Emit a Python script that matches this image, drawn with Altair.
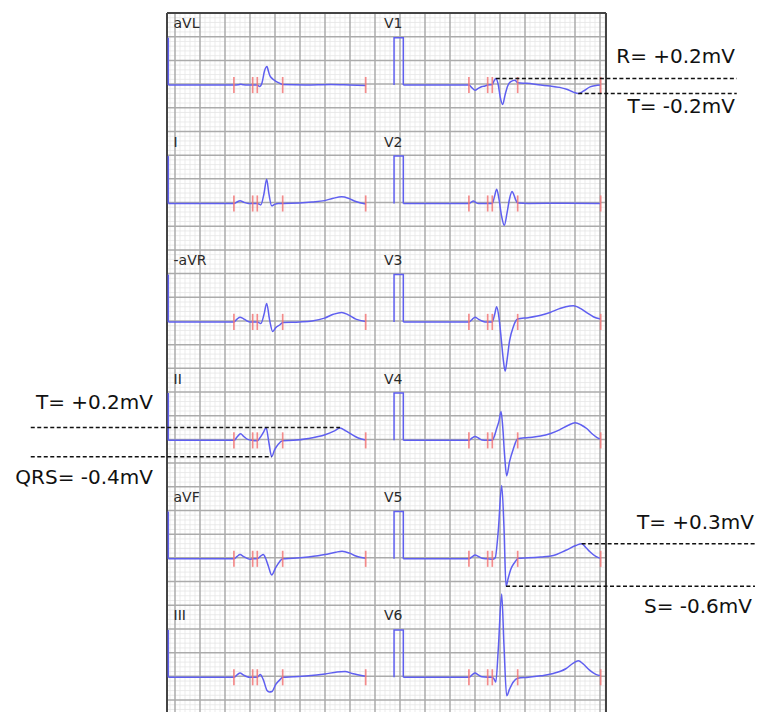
import altair as alt
import pandas as pd

# ---------------- data ----------------
leads_left = ["aVL", "I", "-aVR", "II", "aVF", "III"]
leads_right = ["V1", "V2", "V3", "V4", "V5", "V6"]

# marker positions (ms after the calibration pulse): P on, P off, QRS on, QRS off, T off
marker_ms = [525, 675, 712, 915, 1579]

# waveforms: time (ms after calibration pulse) and amplitude (mV)
aVL_t = [0, 525, 560, 580, 600, 640, 675, 712, 730, 750, 770, 790, 800, 812, 830, 855, 890, 915, 1100, 1300, 1450, 1579]
aVL_v = [0, 0, 0.005, 0.015, 0.005, 0, 0, 0, -0.03, 0.05, 0.3, 0.39, 0.3, 0.2, 0.14, 0.09, 0.04, 0.01, 0.0, 0.01, 0.0, -0.01]

I_t = [0, 525, 550, 574, 600, 640, 675, 712, 740, 765, 787, 805, 827, 850, 880, 915, 1050, 1150, 1250, 1320, 1387, 1440, 1500, 1579]
I_v = [0, 0, 0.03, 0.06, 0.03, 0.0, 0, 0, -0.03, 0.2, 0.51, 0.2, -0.05, -0.02, 0.0, 0, 0.01, 0.03, 0.06, 0.11, 0.14, 0.11, 0.04, -0.01]

mAVR_t = [0, 525, 550, 574, 600, 630, 654, 675, 712, 740, 765, 787, 810, 835, 860, 894, 915, 1050, 1150, 1250, 1320, 1387, 1440, 1500, 1579]
mAVR_v = [0, 0, 0.06, 0.1, 0.07, 0.02, 0, 0, 0, -0.035, 0.15, 0.39, 0.05, -0.2, -0.12, -0.06, -0.01, 0.0, 0.02, 0.08, 0.16, 0.2, 0.15, 0.06, 0.01]

II_t = [0, 525, 550, 578, 605, 635, 675, 712, 740, 765, 782, 805, 827, 850, 880, 915, 1000, 1120, 1254, 1330, 1374, 1420, 1470, 1520, 1579]
II_v = [0, 0, 0.07, 0.14, 0.08, 0.02, 0, -0.01, 0.08, 0.19, 0.27, -0.05, -0.345, -0.2, -0.08, -0.01, 0.0, 0.04, 0.12, 0.2, 0.26, 0.2, 0.12, 0.05, 0.01]

aVF_t = [0, 525, 550, 574, 600, 630, 654, 675, 712, 740, 760, 780, 800, 827, 860, 890, 915, 1000, 1120, 1254, 1340, 1390, 1450, 1500, 1579]
aVF_v = [0, 0, 0.05, 0.09, 0.05, 0.01, -0.01, 0, 0, 0.06, 0.09, 0.0, -0.15, -0.34, -0.18, -0.06, 0, 0.01, 0.04, 0.09, 0.14, 0.16, 0.12, 0.06, 0.01]

III_t = [0, 525, 550, 574, 600, 630, 654, 675, 712, 735, 760, 790, 808, 830, 860, 894, 915, 1000, 1120, 1254, 1350, 1414, 1470, 1579]
III_v = [0, 0, 0.05, 0.09, 0.05, 0.01, 0, 0, 0, 0.06, -0.05, -0.28, -0.31, -0.3, -0.15, -0.05, 0, 0.01, 0.03, 0.07, 0.11, 0.12, 0.08, 0.02]

V1_t = [0, 525, 550, 574, 600, 630, 654, 675, 712, 725, 741, 760, 775, 795, 815, 835, 860, 893, 915, 987, 1100, 1174, 1250, 1307, 1360, 1400, 1440, 1494, 1579]
V1_v = [0, 0, -0.06, -0.11, -0.07, -0.03, -0.02, 0, 0.01, 0.08, 0.14, 0.0, -0.25, -0.41, -0.2, -0.02, 0.07, 0.1, 0.05, 0.035, 0.0, -0.02, -0.05, -0.09, -0.15, -0.18, -0.13, -0.04, 0.0]

V2_t = [0, 525, 545, 560, 580, 600, 675, 712, 730, 747, 765, 785, 808, 830, 850, 870, 885, 900, 915, 1000, 1300, 1579]
V2_v = [0, 0, 0.03, 0.05, 0.02, 0, 0, 0, 0.15, 0.3, 0.1, -0.25, -0.46, -0.2, 0.1, 0.25, 0.18, 0.07, 0.01, 0.0, 0.005, 0.0]

V3_t = [0, 525, 550, 574, 600, 630, 654, 675, 712, 730, 747, 765, 785, 800, 815, 830, 850, 880, 915, 1000, 1100, 1174, 1250, 1300, 1360, 1420, 1470, 1520, 1579]
V3_v = [0, 0, 0.05, 0.1, 0.06, 0.02, 0, 0, 0, 0.15, 0.32, 0.1, -0.4, -0.8, -1.04, -0.8, -0.4, -0.1, 0.06, 0.09, 0.14, 0.2, 0.28, 0.32, 0.34, 0.28, 0.19, 0.11, 0.06]

V4_t = [0, 525, 550, 574, 600, 630, 675, 712, 730, 747, 765, 782, 795, 810, 827, 850, 880, 915, 1000, 1100, 1174, 1250, 1320, 1374, 1420, 1467, 1510, 1550, 1579]
V4_v = [0, 0, 0.05, 0.08, 0.05, 0.01, 0, 0, 0.1, 0.25, 0.4, 0.61, 0.3, -0.3, -0.75, -0.45, -0.18, 0.035, 0.06, 0.09, 0.14, 0.22, 0.32, 0.37, 0.33, 0.25, 0.14, 0.06, 0.02]

V5_t = [0, 525, 550, 574, 600, 630, 675, 712, 735, 760, 787, 805, 822, 840, 860, 890, 920, 1000, 1100, 1200, 1300, 1380, 1427, 1460, 1493, 1540, 1579]
V5_v = [0, 0, 0.04, 0.08, 0.05, 0.01, 0, -0.01, 0.02, 0.6, 1.55, 0.7, -0.58, -0.4, -0.22, -0.08, 0.01, 0.02, 0.04, 0.07, 0.18, 0.28, 0.32, 0.24, 0.15, 0.05, 0.01]

V6_t = [0, 525, 550, 574, 600, 630, 675, 712, 725, 740, 760, 787, 805, 827, 850, 880, 915, 1000, 1100, 1200, 1300, 1360, 1400, 1440, 1490, 1540, 1579]
V6_v = [0, 0, 0.05, 0.09, 0.05, 0.01, 0, 0, -0.03, -0.1, 0.6, 1.76, 0.7, -0.39, -0.25, -0.1, -0.02, 0.0, 0.03, 0.08, 0.18, 0.3, 0.35, 0.28, 0.15, 0.06, 0.03]

# calibration pulses (1 mV)
cal_left_t = [0, 0]
cal_left_v = [1.0, 0.0]
cal_right_t = [-74, -74, 0, 0]
cal_right_v = [0.0, 1.0, 1.0, 0.0]

# measurement annotations
dash_lead = ["II", "II", "V1", "V1", "V5", "V5"]
dash_level = [0.27, -0.345, 0.14, -0.18, 0.32, -0.58]
dash_from_s = [-1.154, -1.154, 2.567, 3.226, 3.253, 2.648]
dash_to_s = [1.320, 0.773, 4.494, 4.494, 4.64, 4.64]

ann_text = ["R= +0.2mV", "T= -0.2mV", "T= +0.2mV", "QRS= -0.4mV", "T= +0.3mV", "S= -0.6mV"]
ann_x_s = [4.48, 4.48, -0.176, -0.176, 4.632, 4.616]
ann_y_mv = [-0.929, -1.978, -8.231, -9.821, -10.770, -12.531]

# ---------------- layout (ECG paper: 0.04 s / 0.1 mV small squares) ----------------
ROW_STEP = 2.5
BASE0 = -1.52
COL_ORIGIN = [-0.0536, 1.8264]
LABEL_X = [-0.012, 1.672]
LABEL_DY = 1.2
GX0, GX1 = -0.064, 3.448
X_DOMAIN = [-1.336, 4.64]
Y_DOMAIN = [-14.753, 0.1055]
YBOT = Y_DOMAIN[0]

waves = {
    "aVL": (aVL_t, aVL_v), "I": (I_t, I_v), "-aVR": (mAVR_t, mAVR_v),
    "II": (II_t, II_v), "aVF": (aVF_t, aVF_v), "III": (III_t, III_v),
    "V1": (V1_t, V1_v), "V2": (V2_t, V2_v), "V3": (V3_t, V3_v),
    "V4": (V4_t, V4_v), "V5": (V5_t, V5_v), "V6": (V6_t, V6_v),
}

base = {}
colof = {}
for c, leads in enumerate([leads_left, leads_right]):
    for r, name in enumerate(leads):
        base[name] = BASE0 - ROW_STEP * r
        colof[name] = c

trace_rows, pulse_rows, tick_rows, label_rows = [], [], [], []
for name, (ts, vs) in waves.items():
    c = colof[name]
    for t, v in zip(ts, vs):
        trace_rows.append(dict(lead=name, x=COL_ORIGIN[c] + t / 1000, y=base[name] + v))
    pt, pv = (cal_left_t, cal_left_v) if c == 0 else (cal_right_t, cal_right_v)
    for i, (t, v) in enumerate(zip(pt, pv)):
        pulse_rows.append(dict(lead=name, i=i, x=COL_ORIGIN[c] + t / 1000, y=base[name] + v))
    for m in marker_ms:
        tick_rows.append(dict(x=COL_ORIGIN[c] + m / 1000, y=base[name] - 0.17, y2=base[name] + 0.17))
    label_rows.append(dict(lead=name, x=LABEL_X[c], y=base[name] + LABEL_DY))

traces = pd.DataFrame(trace_rows)
pulses = pd.DataFrame(pulse_rows)
ticks = pd.DataFrame(tick_rows)
labels = pd.DataFrame(label_rows)

vminor = pd.DataFrame([dict(x=0.04 * k, y=0.0, y2=YBOT) for k in range(-1, 87) if k % 5 != 0])
vmajor = pd.DataFrame([dict(x=0.04 * k, y=0.0, y2=YBOT) for k in range(0, 86, 5)])
hminor = pd.DataFrame([dict(y=-0.1 * j, x=GX0, x2=GX1) for j in range(1, 148) if j % 5 != 0])
hmajor = pd.DataFrame([dict(y=-0.1 * j, x=GX0, x2=GX1) for j in range(5, 148, 5)])
vborder = pd.DataFrame([dict(x=GX0, y=0.0, y2=YBOT), dict(x=GX1, y=0.0, y2=YBOT)])
hborder = pd.DataFrame([dict(y=0.0, x=GX0, x2=GX1)])

dashes = pd.DataFrame(dict(y=[base[l] + v for l, v in zip(dash_lead, dash_level)],
                           x=dash_from_s, x2=dash_to_s))
anns = pd.DataFrame(dict(text=ann_text, x=ann_x_s, y=ann_y_mv))

xs = alt.Scale(domain=X_DOMAIN, nice=False, zero=False)
ys = alt.Scale(domain=Y_DOMAIN, nice=False, zero=False)
X = alt.X("x:Q", scale=xs, axis=None)
Y = alt.Y("y:Q", scale=ys, axis=None)


def vrules(df, color, w):
    return alt.Chart(df).mark_rule(color=color, strokeWidth=w).encode(x=X, y=Y, y2="y2:Q")


def hrules(df, color, w, **kw):
    return alt.Chart(df).mark_rule(color=color, strokeWidth=w, **kw).encode(x=X, x2="x2:Q", y=Y)


layers = [
    vrules(vminor, "#e6e6e6", 0.8),
    hrules(hminor, "#e6e6e6", 0.8),
    vrules(vmajor, "#ababab", 1.5),
    hrules(hmajor, "#ababab", 1.5),
    vrules(vborder, "#444444", 2),
    hrules(hborder, "#444444", 2),
    alt.Chart(pulses).mark_line(color="#5f5ff0", strokeWidth=1.5, interpolate="linear").encode(
        x=X, y=Y, detail="lead:N", order="i:Q"),
    alt.Chart(traces).mark_line(color="#5f5ff0", strokeWidth=1.5, interpolate="monotone").encode(
        x=X, y=Y, detail="lead:N"),
    alt.Chart(ticks).mark_rule(color="#f27777", strokeWidth=1.7, opacity=0.85).encode(
        x=X, y=Y, y2="y2:Q"),
    alt.Chart(labels).mark_text(align="left", baseline="alphabetic", font="DejaVu Sans",
                                fontSize=14, color="#2a2a2a").encode(x=X, y=Y, text="lead:N"),
    hrules(dashes, "#111111", 1.5, strokeDash=[4, 2.5]),
    alt.Chart(anns).mark_text(align="right", baseline="middle", font="DejaVu Sans",
                              fontSize=20, color="#111111").encode(x=X, y=Y, text="text:N"),
]

chart = alt.layer(*layers).properties(
    width=747, height=704, padding=0, autosize=alt.AutoSizeParams(type="none"),
    background="white",
).configure_view(stroke=None)

chart.save("out.html", embed_options={"renderer": "svg", "actions": False})
